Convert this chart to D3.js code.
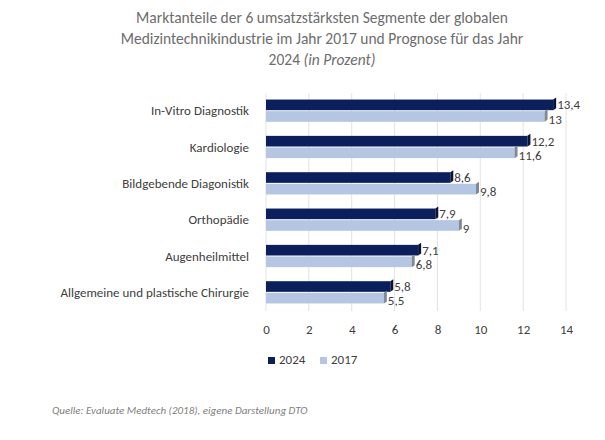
<!DOCTYPE html>
<html><head><meta charset="utf-8">
<script src="https://cdn.jsdelivr.net/npm/d3@7"></script>
<style>body{margin:0;background:#fff;font-family:Calibri,"Liberation Sans",Carlito,sans-serif;}</style>
</head><body><div id="chart"></div>
<script>
var categories = ["In-Vitro Diagnostik","Kardiologie","Bildgebende Diagonistik","Orthopädie","Augenheilmittel","Allgemeine und plastische Chirurgie"];
var values2024 = [13.4, 12.2, 8.6, 7.9, 7.1, 5.8];
var values2017 = [13, 11.6, 9.8, 9, 6.8, 5.5];
var ticks = [0, 2, 4, 6, 8, 10, 12, 14];

var svg = d3.select("#chart").append("svg").attr("width", 605).attr("height", 440);
var font = "Carlito, 'Liberation Sans', sans-serif";

var x = d3.scaleLinear().domain([0, 14]).range([266, 566]);
var y = d3.scaleBand().domain(categories).range([93, 311]).paddingInner(0.36).paddingOuter(0.18);
var bh = y.bandwidth() / 2;

// title
["Marktanteile der 6 umsatzstärksten Segmente der globalen",
 "Medizintechnikindustrie im Jahr 2017 und Prognose für das Jahr"].forEach(function(t, i) {
  svg.append("text").attr("x", 322).attr("y", 23 + i * 21).attr("text-anchor", "middle")
    .attr("font-family", font).attr("font-size", 15.5).attr("fill", "#6d6d6d").text(t);
});
var t3 = svg.append("text").attr("x", 322).attr("y", 65).attr("text-anchor", "middle")
  .attr("font-family", font).attr("font-size", 15.5).attr("fill", "#6d6d6d");
t3.append("tspan").text("2024 ");
t3.append("tspan").attr("font-style", "italic").text("(in Prozent)");

// grid
svg.selectAll(".grid").data(ticks).enter().append("line")
  .attr("x1", d => x(d)).attr("x2", d => x(d)).attr("y1", 93).attr("y2", 311)
  .attr("stroke", "#e3e3e3").attr("stroke-width", 1);

// axis
var ax = svg.append("g").attr("transform", "translate(0,311)")
  .call(d3.axisBottom(x).tickValues(ticks).tickSize(0).tickPadding(14));
ax.select(".domain").remove();
ax.selectAll("text").attr("font-family", font).attr("font-size", 13).attr("fill", "#404040");

function drawSeries(vals, offset, fill, side) {
  var g = svg.append("g");
  g.selectAll("rect").data(vals).enter().append("rect")
    .attr("x", x(0)).attr("y", (d, i) => y(categories[i]) + offset)
    .attr("width", d => x(d) - x(0)).attr("height", bh - 1).attr("fill", fill);
  g.selectAll("path").data(vals).enter().append("path")
    .attr("d", function(d, i) {
      var x1 = x(d), y0 = y(categories[i]) + offset;
      return "M" + x1 + "," + y0 + "L" + (x1 + 3) + "," + (y0 - 2) + "L" + (x1 + 3) + "," + (y0 + bh - 3) + "L" + x1 + "," + (y0 + bh - 1) + "Z";
    }).attr("fill", side);
}
drawSeries(values2024, 0, "#0b1f5c", "#061238");
drawSeries(values2017, bh, "#b4c6e2", "#7f8a99");

function fmt(v) { return String(v).replace(".", ","); }
svg.selectAll(".l24").data(values2024).enter().append("text")
  .attr("x", d => x(d) + 4).attr("y", (d, i) => y(categories[i]) + bh - 2)
  .attr("font-family", font).attr("font-size", 13).attr("fill", "#404040").text(fmt);
svg.selectAll(".l17").data(values2017).enter().append("text")
  .attr("x", d => x(d) + 4).attr("y", (d, i) => y(categories[i]) + 2 * bh + 1)
  .attr("font-family", font).attr("font-size", 13).attr("fill", "#404040").text(fmt);

// category labels
svg.selectAll(".cat").data(categories).enter().append("text")
  .attr("x", 249).attr("y", d => y(d) + bh + 4).attr("text-anchor", "end")
  .attr("font-family", font).attr("font-size", 13).attr("fill", "#404040").text(d => d);

// legend
var legend = [["2024", "#0b1f5c"], ["2017", "#b4c6e2"]];
legend.forEach(function(l, i) {
  var lx = 268 + i * 52;
  svg.append("rect").attr("x", lx).attr("y", 357).attr("width", 7).attr("height", 7).attr("fill", l[1]);
  svg.append("text").attr("x", lx + 11).attr("y", 364).attr("font-family", font)
    .attr("font-size", 13).attr("fill", "#404040").text(l[0]);
});

svg.append("text").attr("x", 52).attr("y", 414).attr("font-family", font).attr("font-size", 11)
  .attr("font-style", "italic").attr("fill", "#7f7f7f")
  .text("Quelle: Evaluate Medtech (2018), eigene Darstellung DTO");
</script></body></html>
